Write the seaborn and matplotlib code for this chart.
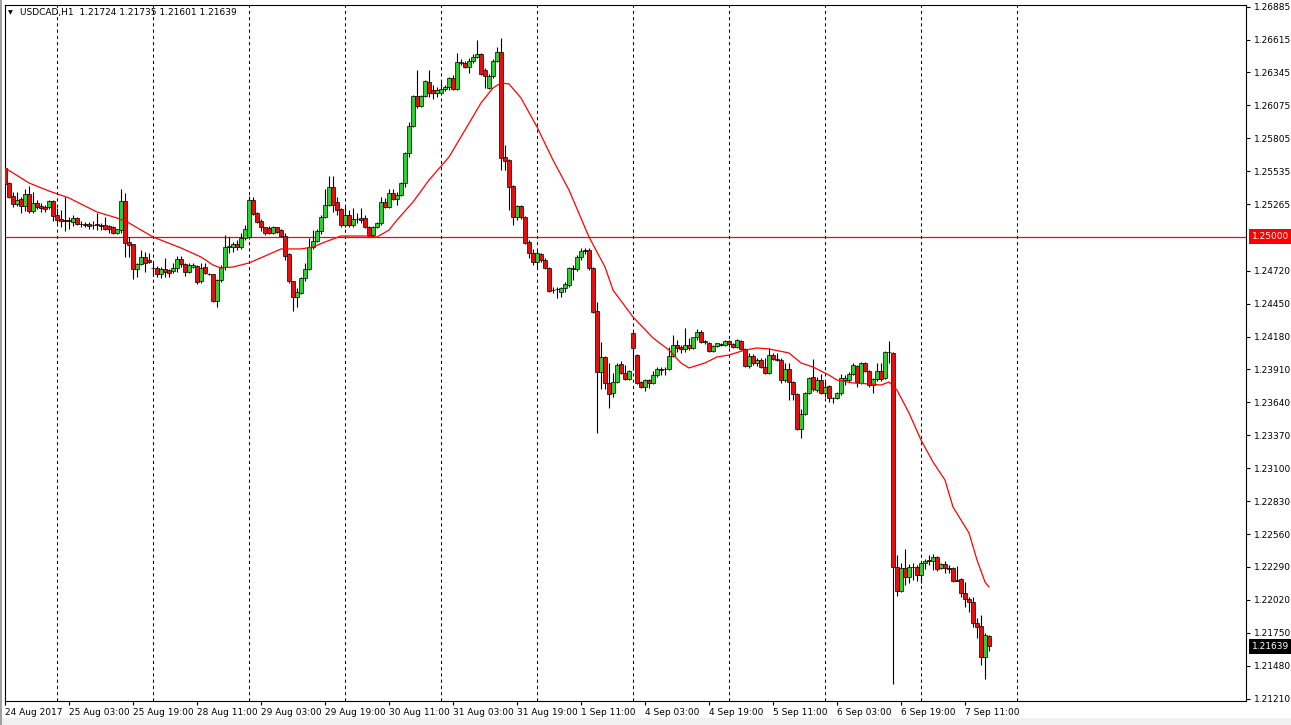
"""USDCAD H1 candlestick chart in the MetaTrader style, drawn with seaborn + matplotlib."""

import matplotlib
matplotlib.use("Agg")
import matplotlib.pyplot as plt
import matplotlib.patches as mpatches
import numpy as np
import pandas as pd
import seaborn as sns

SYMBOL = "USDCAD"
TIMEFRAME = "H1"
LEVEL = 1.25000

OPEN = [
    1.25561, 1.25438, 1.25332, 1.25266, 1.25307, 1.25250, 1.25348, 1.25209, 1.25274, 1.25250,
    1.25242, 1.25242, 1.25291, 1.25176, 1.25143, 1.25135, 1.25135, 1.25119, 1.25151, 1.25102,
    1.25102, 1.25102, 1.25094, 1.25102, 1.25094, 1.25094, 1.25086, 1.25078, 1.25028, 1.25053,
    1.25291, 1.24955, 1.24938, 1.24733, 1.24774, 1.24832, 1.24807, 1.24742, 1.24742, 1.24692,
    1.24733, 1.24725, 1.24717, 1.24742, 1.24815, 1.24774, 1.24709, 1.24750, 1.24758, 1.24635,
    1.24750, 1.24692, 1.24692, 1.24471, 1.24643, 1.24750, 1.24914, 1.24914, 1.24938, 1.24914,
    1.24987, 1.24996, 1.25299, 1.25192, 1.25127, 1.25078, 1.25069, 1.25028, 1.25078, 1.25053,
    1.25004, 1.24856, 1.24635, 1.24504, 1.24537, 1.24660, 1.24733, 1.24914, 1.24963, 1.25045,
    1.25160, 1.25258, 1.25406, 1.25283, 1.25225, 1.25094, 1.25176, 1.25094, 1.25143, 1.25151,
    1.25151, 1.25078, 1.25012, 1.25078, 1.25110, 1.25283, 1.25242, 1.25356, 1.25307, 1.25340,
    1.25438, 1.25684, 1.25906, 1.26152, 1.26070, 1.26152, 1.26267, 1.26201, 1.26176, 1.26176,
    1.26209, 1.26226, 1.26299, 1.26209, 1.26422, 1.26422, 1.26390, 1.26439, 1.26472, 1.26496,
    1.26365, 1.26217, 1.26316, 1.26439, 1.26513, 1.25652, 1.25627, 1.25414, 1.25160, 1.25250,
    1.25160, 1.24955, 1.24865, 1.24791, 1.24856, 1.24807, 1.24742, 1.24561, 1.24569, 1.24545,
    1.24578, 1.24602, 1.24742, 1.24733, 1.24832, 1.24889, 1.24889, 1.24742, 1.24389, 1.23889,
    1.24012, 1.23798, 1.23716, 1.23807, 1.23954, 1.23880, 1.23831, 1.24208, 1.24028, 1.23807,
    1.23766, 1.23823, 1.23798, 1.23864, 1.23913, 1.23913, 1.23913, 1.24020, 1.24110, 1.24094,
    1.24077, 1.24110, 1.24085, 1.24176, 1.24217, 1.24135, 1.24126, 1.24061, 1.24102, 1.24118,
    1.24110, 1.24143, 1.24118, 1.24094, 1.24143, 1.24077, 1.23938, 1.24020, 1.23963, 1.23987,
    1.23930, 1.23880, 1.24028, 1.23995, 1.23987, 1.23823, 1.23913, 1.23807, 1.23708, 1.23421,
    1.23544, 1.23716, 1.23848, 1.23741, 1.23823, 1.23716, 1.23774, 1.23675, 1.23675, 1.23716,
    1.23823, 1.23823, 1.23872, 1.23938, 1.23798, 1.23963, 1.23897, 1.23782, 1.23831, 1.23897,
    1.23840, 1.24053, 1.24044, 1.22290, 1.22093, 1.22281, 1.22208, 1.22290, 1.22290, 1.22224,
    1.22323, 1.22347, 1.22339, 1.22372, 1.22281, 1.22314, 1.22281, 1.22281, 1.22183, 1.22191,
    1.22076, 1.22027, 1.22003, 1.21830, 1.21806, 1.21552, 1.21724,
]
HIGH = [
    1.25602, 1.25447, 1.25365, 1.25365, 1.25324, 1.25389, 1.25414, 1.25365, 1.25299, 1.25274,
    1.25258, 1.25299, 1.25299, 1.25233, 1.25217, 1.25324, 1.25160, 1.25176, 1.25160, 1.25127,
    1.25119, 1.25119, 1.25127, 1.25192, 1.25110, 1.25160, 1.25094, 1.25086, 1.25061, 1.25389,
    1.25356, 1.24996, 1.24938, 1.24783, 1.24889, 1.24873, 1.24865, 1.24783, 1.24758, 1.24750,
    1.24824, 1.24733, 1.24783, 1.24840, 1.24840, 1.24783, 1.24783, 1.24783, 1.24766, 1.24783,
    1.24783, 1.24701, 1.24692, 1.24651, 1.24766, 1.25012, 1.24996, 1.24955, 1.24971, 1.25028,
    1.25094, 1.25332, 1.25324, 1.25201, 1.25143, 1.25078, 1.25086, 1.25086, 1.25078, 1.25061,
    1.25028, 1.24865, 1.24635, 1.24578, 1.24668, 1.24783, 1.24987, 1.25053, 1.25061, 1.25176,
    1.25389, 1.25496, 1.25496, 1.25324, 1.25233, 1.25242, 1.25217, 1.25233, 1.25192, 1.25233,
    1.25176, 1.25086, 1.25086, 1.25119, 1.25324, 1.25315, 1.25389, 1.25389, 1.25365, 1.25447,
    1.25692, 1.25939, 1.26160, 1.26365, 1.26160, 1.26283, 1.26365, 1.26242, 1.26226, 1.26267,
    1.26242, 1.26308, 1.26324, 1.26504, 1.26455, 1.26439, 1.26463, 1.26496, 1.26611, 1.26504,
    1.26381, 1.26332, 1.26455, 1.26554, 1.26627, 1.25750, 1.25635, 1.25422, 1.25258, 1.25258,
    1.25168, 1.24971, 1.24897, 1.24889, 1.24865, 1.24824, 1.24750, 1.24586, 1.24586, 1.24586,
    1.24627, 1.24750, 1.24766, 1.24848, 1.24906, 1.24906, 1.24906, 1.24750, 1.24463, 1.24135,
    1.24020, 1.23963, 1.23880, 1.23963, 1.23979, 1.23946, 1.23905, 1.24217, 1.24036, 1.23815,
    1.23831, 1.23831, 1.23897, 1.23930, 1.23930, 1.23930, 1.24094, 1.24192, 1.24151, 1.24110,
    1.24250, 1.24167, 1.24176, 1.24241, 1.24233, 1.24151, 1.24135, 1.24110, 1.24126, 1.24126,
    1.24151, 1.24151, 1.24126, 1.24159, 1.24151, 1.24085, 1.24044, 1.24036, 1.24003, 1.24003,
    1.24003, 1.24085, 1.24044, 1.24044, 1.24003, 1.23963, 1.23963, 1.23815, 1.23716, 1.23585,
    1.23725, 1.23848, 1.23995, 1.23848, 1.23872, 1.23815, 1.23782, 1.23684, 1.23725, 1.23872,
    1.23864, 1.23889, 1.23963, 1.23946, 1.23971, 1.23971, 1.23905, 1.23840, 1.23963, 1.23963,
    1.24061, 1.24143, 1.24053, 1.22388, 1.22323, 1.22437, 1.22314, 1.22323, 1.22306, 1.22331,
    1.22355, 1.22388, 1.22396, 1.22380, 1.22323, 1.22339, 1.22306, 1.22290, 1.22298, 1.22199,
    1.22167, 1.22044, 1.22044, 1.21871, 1.21896, 1.21748, 1.21735,
]
LOW = [
    1.25414, 1.25315, 1.25242, 1.25250, 1.25192, 1.25209, 1.25192, 1.25192, 1.25225, 1.25201,
    1.25201, 1.25225, 1.25127, 1.25110, 1.25078, 1.25045, 1.25061, 1.25086, 1.25094, 1.25078,
    1.25078, 1.25061, 1.25061, 1.25053, 1.25053, 1.25053, 1.25028, 1.25020, 1.25020, 1.25028,
    1.24832, 1.24832, 1.24651, 1.24668, 1.24766, 1.24709, 1.24783, 1.24676, 1.24668, 1.24660,
    1.24668, 1.24668, 1.24701, 1.24709, 1.24750, 1.24676, 1.24701, 1.24742, 1.24610, 1.24619,
    1.24692, 1.24684, 1.24463, 1.24422, 1.24627, 1.24725, 1.24865, 1.24873, 1.24889, 1.24897,
    1.24971, 1.24979, 1.25176, 1.25110, 1.25045, 1.25012, 1.25020, 1.25020, 1.25028, 1.24996,
    1.24807, 1.24619, 1.24389, 1.24422, 1.24528, 1.24635, 1.24725, 1.24897, 1.24955, 1.25020,
    1.25151, 1.25250, 1.25201, 1.25176, 1.25078, 1.25078, 1.25078, 1.25078, 1.25110, 1.25110,
    1.25069, 1.25004, 1.24996, 1.25069, 1.25094, 1.25233, 1.25233, 1.25299, 1.25258, 1.25332,
    1.25406, 1.25652, 1.25898, 1.26053, 1.26062, 1.26144, 1.26144, 1.26127, 1.26144, 1.26160,
    1.26193, 1.26201, 1.26201, 1.26201, 1.26406, 1.26381, 1.26340, 1.26422, 1.26463, 1.26324,
    1.26217, 1.26209, 1.26299, 1.26431, 1.25545, 1.25545, 1.25217, 1.25094, 1.25135, 1.25143,
    1.24938, 1.24824, 1.24766, 1.24750, 1.24791, 1.24733, 1.24545, 1.24537, 1.24496, 1.24504,
    1.24545, 1.24586, 1.24643, 1.24717, 1.24807, 1.24856, 1.24725, 1.24373, 1.23388, 1.23749,
    1.23749, 1.23593, 1.23684, 1.23798, 1.23872, 1.23823, 1.23823, 1.23905, 1.23790, 1.23757,
    1.23733, 1.23757, 1.23790, 1.23848, 1.23864, 1.23864, 1.23905, 1.24012, 1.24053, 1.24044,
    1.24053, 1.24069, 1.24077, 1.24151, 1.24126, 1.24118, 1.24053, 1.24053, 1.24094, 1.24102,
    1.24102, 1.24094, 1.24085, 1.24085, 1.24069, 1.23930, 1.23922, 1.23946, 1.23938, 1.23922,
    1.23872, 1.23872, 1.23987, 1.23979, 1.23798, 1.23807, 1.23659, 1.23659, 1.23413, 1.23347,
    1.23536, 1.23708, 1.23733, 1.23725, 1.23708, 1.23684, 1.23643, 1.23634, 1.23667, 1.23700,
    1.23782, 1.23807, 1.23864, 1.23766, 1.23790, 1.23889, 1.23766, 1.23716, 1.23815, 1.23815,
    1.23831, 1.23963, 1.21330, 1.22052, 1.22085, 1.22142, 1.22158, 1.22183, 1.22175, 1.22158,
    1.22273, 1.22306, 1.22265, 1.22257, 1.22273, 1.22240, 1.22240, 1.22167, 1.22175, 1.22044,
    1.21962, 1.21921, 1.21798, 1.21707, 1.21486, 1.21371, 1.21601,
]
CLOSE = [
    1.25430, 1.25324, 1.25266, 1.25299, 1.25250, 1.25348, 1.25209, 1.25274, 1.25242, 1.25233,
    1.25225, 1.25291, 1.25168, 1.25135, 1.25127, 1.25127, 1.25127, 1.25151, 1.25102, 1.25106,
    1.25098, 1.25086, 1.25098, 1.25094, 1.25090, 1.25061, 1.25061, 1.25028, 1.25061, 1.25291,
    1.24947, 1.24930, 1.24733, 1.24774, 1.24832, 1.24783, 1.24791, 1.24738, 1.24692, 1.24733,
    1.24709, 1.24701, 1.24742, 1.24815, 1.24774, 1.24709, 1.24766, 1.24766, 1.24627, 1.24742,
    1.24701, 1.24696, 1.24471, 1.24643, 1.24750, 1.24914, 1.24922, 1.24938, 1.24914, 1.24987,
    1.25061, 1.25299, 1.25184, 1.25119, 1.25078, 1.25028, 1.25028, 1.25078, 1.25037, 1.25004,
    1.24840, 1.24635, 1.24504, 1.24545, 1.24660, 1.24733, 1.24914, 1.24963, 1.25045, 1.25160,
    1.25258, 1.25406, 1.25258, 1.25217, 1.25094, 1.25176, 1.25094, 1.25143, 1.25147, 1.25135,
    1.25078, 1.25012, 1.25078, 1.25110, 1.25283, 1.25242, 1.25356, 1.25307, 1.25340, 1.25438,
    1.25684, 1.25906, 1.26152, 1.26070, 1.26152, 1.26275, 1.26176, 1.26176, 1.26201, 1.26209,
    1.26226, 1.26299, 1.26209, 1.26431, 1.26431, 1.26390, 1.26439, 1.26472, 1.26496, 1.26332,
    1.26316, 1.26316, 1.26439, 1.26513, 1.25643, 1.25619, 1.25406, 1.25160, 1.25250, 1.25160,
    1.24947, 1.24865, 1.24791, 1.24865, 1.24807, 1.24742, 1.24553, 1.24565, 1.24573, 1.24578,
    1.24610, 1.24742, 1.24733, 1.24832, 1.24881, 1.24885, 1.24742, 1.24381, 1.23889, 1.24012,
    1.23798, 1.23708, 1.23807, 1.23946, 1.23880, 1.23831, 1.23897, 1.24085, 1.23798, 1.23766,
    1.23823, 1.23798, 1.23864, 1.23913, 1.23909, 1.23917, 1.24020, 1.24110, 1.24085, 1.24077,
    1.24110, 1.24085, 1.24176, 1.24217, 1.24135, 1.24139, 1.24061, 1.24102, 1.24126, 1.24114,
    1.24143, 1.24118, 1.24094, 1.24151, 1.24077, 1.23938, 1.24020, 1.23963, 1.23987, 1.23930,
    1.23880, 1.24028, 1.23995, 1.23991, 1.23823, 1.23913, 1.23807, 1.23708, 1.23421, 1.23544,
    1.23716, 1.23840, 1.23749, 1.23823, 1.23716, 1.23766, 1.23675, 1.23679, 1.23716, 1.23840,
    1.23840, 1.23872, 1.23946, 1.23807, 1.23963, 1.23897, 1.23782, 1.23831, 1.23897, 1.23831,
    1.24053, 1.24049, 1.22290, 1.22093, 1.22281, 1.22208, 1.22290, 1.22286, 1.22224, 1.22323,
    1.22339, 1.22343, 1.22372, 1.22273, 1.22314, 1.22281, 1.22277, 1.22175, 1.22179, 1.22076,
    1.22027, 1.22003, 1.21830, 1.21798, 1.21552, 1.21732, 1.21639,
]

# moving average (bar index, price)
MA_BAR = [0, 6, 11, 16, 23, 28, 31, 37, 44, 49, 52, 54, 57, 61, 65, 69, 74, 77, 80, 84,
          90, 93, 96, 98, 102, 106, 111, 115, 119, 122, 124, 126, 129, 133, 137, 141, 146, 150,
          152, 157, 162, 166, 169, 171, 175, 178, 181, 185, 188, 191, 196, 199, 202, 206, 208,
          212, 216, 219, 221, 223, 226, 229, 232, 235, 237, 241, 243, 245, 246]
MA_VAL = [1.25562, 1.25439, 1.25373, 1.25316, 1.25201, 1.25152, 1.25111, 1.24996, 1.24906,
          1.24832, 1.24766, 1.24742, 1.24750, 1.24783, 1.24840, 1.24898, 1.24898, 1.24914,
          1.24955, 1.25004, 1.25004, 1.24996, 1.25053, 1.25135, 1.25283, 1.25463, 1.25652,
          1.25873, 1.26095, 1.26218, 1.26259, 1.26251, 1.26136, 1.25898, 1.25627, 1.25381,
          1.24996, 1.24750, 1.24561, 1.24340, 1.24168, 1.24069, 1.23963, 1.23922, 1.23963,
          1.24012, 1.24028, 1.24069, 1.24086, 1.24078, 1.24045, 1.23963, 1.23930, 1.23864,
          1.23823, 1.23799, 1.23791, 1.23782, 1.23807, 1.23741, 1.23553, 1.23331, 1.23151,
          1.23003, 1.22782, 1.22569, 1.22347, 1.22167, 1.22126]

X_LABELS = ["24 Aug 2017", "25 Aug 03:00", "25 Aug 19:00", "28 Aug 11:00", "29 Aug 03:00",
            "29 Aug 19:00", "30 Aug 11:00", "31 Aug 03:00", "31 Aug 19:00", "1 Sep 11:00",
            "4 Sep 03:00", "4 Sep 19:00", "5 Sep 11:00", "6 Sep 03:00", "6 Sep 19:00",
            "7 Sep 11:00"]
Y_TICKS = [1.26885, 1.26615, 1.26345, 1.26075, 1.25805, 1.25535, 1.25265, 1.24720, 1.24450,
           1.24180, 1.23910, 1.23640, 1.23370, 1.23100, 1.22830, 1.22560, 1.22290, 1.22020,
           1.21750, 1.21480, 1.21210]

BULL = "#32cd32"
BEAR = "#e41010"
W, H = 1291, 725
FS = 6.5


def main() -> None:
    sns.set_theme(style="white")
    plt.rcParams["font.family"] = ["DejaVu Sans"]

    df = pd.DataFrame({"open": OPEN, "high": HIGH, "low": LOW, "close": CLOSE})
    df["bar"] = np.arange(len(df))
    ma = pd.DataFrame({"bar": MA_BAR, "ma": MA_VAL})

    fig = plt.figure(figsize=(W / 100, H / 100), dpi=100, facecolor="white")
    ax = fig.add_axes([4.5 / W, 1 - 701 / H, (1246 - 4.5) / W, (701 - 4.5) / H])
    ax.set_facecolor("white")

    # day separators (dashed)
    for b in range(13, 254, 24):
        ax.axvline(b, color="black", linewidth=0.75, linestyle=(0, (3, 3)), zorder=0)

    ax.axhline(LEVEL, color="#ff0000", linewidth=0.9, zorder=1)

    # candles
    up = df["close"] >= df["open"]
    ax.vlines(df["bar"], df["low"], df["high"], color="black", linewidth=0.8, zorder=2)
    ax.bar(df["bar"], df["close"] - df["open"], bottom=df["open"], width=0.8,
           color=np.where(up, BULL, BEAR), edgecolor="black", linewidth=0.5, zorder=3)

    sns.lineplot(data=ma, x="bar", y="ma", color="#ff0000", linewidth=0.9, ax=ax, zorder=4)

    ax.set_xlim(-0.125, 310.25)
    ax.set_ylim(1.211911, 1.269024)

    ax.set_xticks(np.arange(len(X_LABELS)) * 16)
    ax.set_xticklabels(X_LABELS)
    for lbl in ax.get_xticklabels():
        lbl.set_horizontalalignment("left")
    ax.set_yticks(Y_TICKS)
    ax.set_yticklabels([f"{v:.5f}" for v in Y_TICKS])
    ax.yaxis.tick_right()
    ax.tick_params(axis="x", bottom=True, direction="out", length=3, width=0.8,
                   pad=2, labelsize=FS, colors="black")
    ax.tick_params(axis="y", right=True, left=False, direction="out", length=3, width=0.8,
                   pad=3, labelsize=FS, colors="black")
    ax.set_xlabel("")
    ax.set_ylabel("")
    for sp in ax.spines.values():
        sp.set_color("black")
        sp.set_linewidth(0.8)
        sp.set_visible(True)

    # price labels on the scale
    ytr = ax.get_yaxis_transform()
    ax.text(1.0045, LEVEL, f"{LEVEL:.5f}", transform=ytr, ha="left", va="center",
            fontsize=FS, color="white", zorder=6, clip_on=False,
            bbox=dict(boxstyle="square,pad=0.3", fc="#ff0000", ec="none"))
    ax.text(1.0045, CLOSE[-1], f"{CLOSE[-1]:.5f}", transform=ytr, ha="left", va="center",
            fontsize=FS, color="white", zorder=6, clip_on=False,
            bbox=dict(boxstyle="square,pad=0.3", fc="black", ec="none"))

    # header
    head = f"{SYMBOL},{TIMEFRAME}  {OPEN[-1]:.5f} {HIGH[-1]:.5f} {LOW[-1]:.5f} {CLOSE[-1]:.5f}"
    fig.text(8 / W, 1 - 12.5 / H, "\u25bc", fontsize=4.5, va="center", ha="left", color="black")
    fig.text(20 / W, 1 - 12.5 / H, head, fontsize=FS, va="center", ha="left", color="black")

    # window chrome
    fig.patches.append(mpatches.Rectangle((0, 0), 1, 7 / H, transform=fig.transFigure,
                                          facecolor="#f0f0f0", edgecolor="none", zorder=-1))
    fig.patches.append(mpatches.Rectangle((0, 0), 2 / W, 1, transform=fig.transFigure,
                                          facecolor="#a0a0a0", edgecolor="none", zorder=-1))

    fig.savefig("out.png", dpi=100, facecolor="white")
    plt.close(fig)


if __name__ == "__main__":
    main()
